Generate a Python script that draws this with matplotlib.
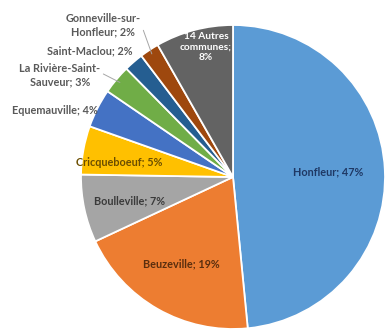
import numpy as np
import matplotlib
matplotlib.use("Agg")
import matplotlib.pyplot as plt

communes = ["Honfleur", "Beuzeville", "Boulleville", "Cricqueboeuf", "Equemauville",
            "La Rivière-Saint-\nSauveur", "Saint-Maclou", "Gonneville-sur-\nHonfleur",
            "14 Autres\ncommunes;\n"]
parts = [47, 19, 7, 5, 4, 3, 2, 2, 8]
colors = ["#5B9BD5", "#ED7D31", "#A5A5A5", "#FFC000", "#4472C4",
          "#70AD47", "#255E91", "#9E480E", "#636363"]
text_colors = ["#1F3864", "#5A2E0E", "#3A3A3A", "#6B4E00", "#595959",
               "#595959", "#595959", "#595959", "#FFFFFF"]

# label placement (pixel coords of reference), centre of pie and radius
CX, CY, R = 233, 177, 152
label_px = [(328, 172), (181, 264), (130, 201), (119, 163), (98, 110),
            (60, 75), (90, 51), (103, 25), (206, 47)]
label_ha = ["center", "center", "center", "center", "right",
            "center", "center", "center", "center"]
label_fs = [7.8, 7.8, 7.8, 7.8, 7.8, 7.8, 7.8, 7.8, 7.3]
leader = [False, False, False, False, False, True, False, True, False]

plt.rcParams['font.family'] = ['Lato', 'DejaVu Sans']

fig = plt.figure(figsize=(3.85, 3.29), dpi=100)
ax = fig.add_axes([(CX - R) / 385, (329 - CY - R) / 329, 2 * R / 385, 2 * R / 329])
wedges, _ = ax.pie(parts, colors=colors, startangle=90, counterclock=False,
                   wedgeprops=dict(edgecolor="white", linewidth=1.3))
ax.set_xlim(-1, 1)
ax.set_ylim(-1, 1)
ax.set_aspect("equal")
ax.axis("off")

for i, (name, val) in enumerate(zip(communes, parts)):
    if name.endswith("\n"):
        txt = name + f"{val}%"
    else:
        txt = f"{name}; {val}%"
    px, py = label_px[i]
    x = (px - CX) / R
    y = (CY - py) / R
    if leader[i]:
        w = wedges[i]
        a = np.deg2rad((w.theta1 + w.theta2) / 2)
        ax.annotate(txt, xy=(0.97 * np.cos(a), 0.97 * np.sin(a)), xytext=(x, y),
                    ha="center", va="center", fontsize=label_fs[i], fontweight="bold",
                    color=text_colors[i], linespacing=1.25,
                    arrowprops=dict(arrowstyle="-", color="#A6A6A6", lw=0.7,
                                    shrinkA=0, shrinkB=0,
                                    relpos=(1.0, 0.6)))
    else:
        ax.text(x, y, txt, ha=label_ha[i], va="center", fontsize=label_fs[i],
                fontweight="bold", color=text_colors[i], linespacing=1.25)

fig.savefig("out.png", dpi=100)
